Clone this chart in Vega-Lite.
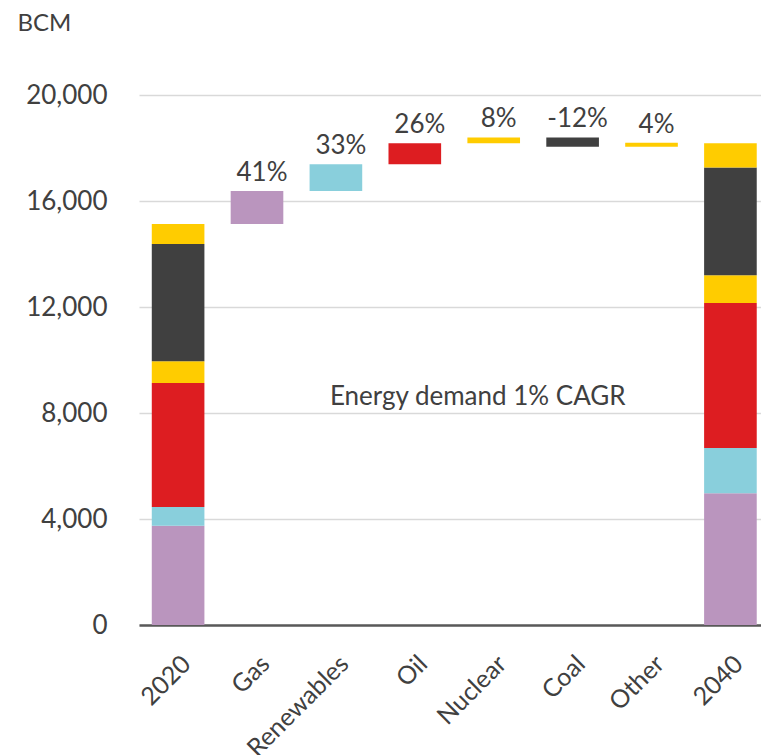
{
  "$schema": "https://vega.github.io/schema/vega-lite/v6.json",
  "width": 622,
  "height": 530,
  "autosize": {"type": "none"},
  "padding": {"left": 139, "top": 95, "right": 0, "bottom": 130},
  "background": "white",
  "title": {
    "text": "Energy demand growth by fuel type",
    "frame": "group",
    "anchor": "start",
    "orient": "top",
    "baseline": "alphabetic",
    "offset": 4,
    "dy": 5,
    "dx": -52,
    "font": "Lato",
    "fontWeight": "bold",
    "fontSize": 29,
    "color": "#404040"
  },
  "config": {
    "view": {"stroke": null},
    "font": "Lato"
  },
  "layer": [
    {
      "data": {
        "values": [
          {"cat": "2020", "fuel": "Gas", "y0": 0, "y1": 3750},
          {"cat": "2020", "fuel": "Renewables", "y0": 3750, "y1": 4450},
          {"cat": "2020", "fuel": "Oil", "y0": 4450, "y1": 9130},
          {"cat": "2020", "fuel": "Nuclear", "y0": 9130, "y1": 9950},
          {"cat": "2020", "fuel": "Coal", "y0": 9950, "y1": 14380},
          {"cat": "2020", "fuel": "Other", "y0": 14380, "y1": 15130},
          {"cat": "Gas", "fuel": "Gas", "y0": 15130, "y1": 16380, "label": "41%"},
          {"cat": "Renewables", "fuel": "Renewables", "y0": 16380, "y1": 17390, "label": "33%"},
          {"cat": "Oil", "fuel": "Oil", "y0": 17390, "y1": 18180, "label": "26%"},
          {"cat": "Nuclear", "fuel": "Nuclear", "y0": 18180, "y1": 18400, "label": "8%"},
          {"cat": "Coal", "fuel": "Coal", "y0": 18050, "y1": 18400, "label": "-12%"},
          {"cat": "Other", "fuel": "Other", "y0": 18050, "y1": 18200, "label": "4%"},
          {"cat": "2040", "fuel": "Gas", "y0": 0, "y1": 4970},
          {"cat": "2040", "fuel": "Renewables", "y0": 4970, "y1": 6680},
          {"cat": "2040", "fuel": "Oil", "y0": 6680, "y1": 12150},
          {"cat": "2040", "fuel": "Nuclear", "y0": 12150, "y1": 13200},
          {"cat": "2040", "fuel": "Coal", "y0": 13200, "y1": 17260},
          {"cat": "2040", "fuel": "Other", "y0": 17260, "y1": 18180}
        ]
      },
      "layer": [
        {
          "mark": {"type": "bar"},
          "encoding": {
            "x": {
              "field": "cat",
              "type": "nominal",
              "sort": null,
              "scale": {
                "domain": ["2020", "Gas", "Renewables", "Oil", "Nuclear", "Coal", "Other", "2040"],
                "paddingInner": 0.333,
                "paddingOuter": 0.108,
                "align": 0.75
              },
              "axis": {
                "title": null,
                "labelAngle": -45,
                "labelFontSize": 25,
                "labelColor": "#404040",
                "labelFont": "Lato",
                "labelPadding": 26,
                "ticks": false,
                "domainColor": "#595959",
                "domainWidth": 2.5,
                "grid": false
              }
            },
            "y": {
              "field": "y0",
              "type": "quantitative",
              "scale": {"domain": [0, 20000], "nice": false},
              "axis": {
                "values": [0, 4000, 8000, 12000, 16000, 20000],
                "format": ",d",
                "title": "BCM",
                "titleAngle": 0,
                "titleAlign": "left",
                "titleBaseline": "alphabetic",
                "titleX": -122,
                "titleY": -65,
                "titleFontSize": 24,
                "titleFontWeight": "normal",
                "titleColor": "#404040",
                "titleFont": "Lato",
                "labelFontSize": 26,
                "labelColor": "#404040",
                "labelFont": "Lato",
                "labelPadding": 32,
                "ticks": false,
                "domain": false,
                "grid": true,
                "gridColor": "#d9d9d9",
                "gridWidth": 1.5
              }
            },
            "y2": {"field": "y1"},
            "color": {
              "field": "fuel",
              "type": "nominal",
              "legend": null,
              "scale": {
                "domain": ["Gas", "Renewables", "Oil", "Nuclear", "Coal", "Other"],
                "range": ["#BA95BE", "#89CFDC", "#DD1D21", "#FFCC00", "#404040", "#FFCC00"]
              }
            }
          }
        },
        {
          "transform": [{"filter": "isValid(datum.label)"}],
          "mark": {
            "type": "text",
            "baseline": "alphabetic",
            "align": "center",
            "dy": -10,
            "dx": 5,
            "fontSize": 26,
            "font": "Lato",
            "color": "#404040"
          },
          "encoding": {
            "x": {"field": "cat", "type": "nominal", "sort": null},
            "y": {"field": "y1", "type": "quantitative"},
            "text": {"field": "label"}
          }
        }
      ]
    },
    {
      "data": {"values": [{"cat": "Nuclear", "v": 8000, "note": "Energy demand 1% CAGR"}]},
      "mark": {
        "type": "text",
        "baseline": "alphabetic",
        "align": "center",
        "dx": -16,
        "dy": -8,
        "fontSize": 26,
        "font": "Lato",
        "color": "#404040"
      },
      "encoding": {
        "x": {"field": "cat", "type": "nominal", "sort": null},
        "y": {"field": "v", "type": "quantitative"},
        "text": {"field": "note"}
      }
    }
  ]
}
